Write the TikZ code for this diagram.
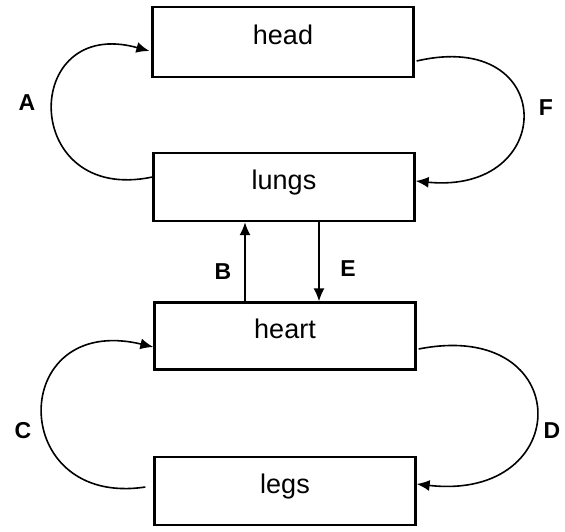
\documentclass[tikz,border=0pt]{standalone}
\usepackage{fontspec}
\setmainfont{Liberation Sans}
\usetikzlibrary{arrows.meta}
\begin{document}
\begin{tikzpicture}[x=1pt,y=-1pt,
  organ/.style={draw,line width=2.3pt,minimum width=261pt,minimum height=68pt,inner sep=0pt,
    text height=0.72em,text depth=0.24em,font=\fontsize{27}{30}\selectfont},
  flow/.style={line width=1.6pt,-{Latex[length=13pt,width=11pt]}},
  lab/.style={font=\bfseries\fontsize{23}{26}\selectfont}]
\useasboundingbox (0,0) rectangle (565,531);
\node[organ,minimum height=70pt] (head) at (283,42) {head};
\node[organ] (lungs) at (284,187) {lungs};
\node[organ,minimum height=67pt] (heart) at (285,336) {heart};
\node[organ] (legs) at (285,491) {legs};
% A
\draw[flow] ([yshift=10pt]lungs.west) .. controls (20,205) and (20,15) .. ([xshift=-2pt,yshift=-9pt]head.west);
% F
\draw[flow] ([xshift=2pt,yshift=-19pt]head.east) .. controls (558,28) and (558,195) .. ([yshift=6pt]lungs.east);
% C
\draw[flow] ([xshift=-8pt,yshift=4pt]legs.west) .. controls (7,508) and (7,312) .. ([yshift=-11pt]heart.west);
% D
\draw[flow] ([xshift=2pt,yshift=-13pt]heart.east) .. controls (576,318) and (576,502) .. ([yshift=7pt]legs.east);
% B and E
\draw[flow] (heart.north -| 245,0) -- (lungs.south -| 245,0);
\draw[flow] (lungs.south -| 319,0) -- (heart.north -| 319,0);
\node[lab] (la) at (27,103) {A};
\node[lab] (lf) at (546,108) {F};
\node[lab] (lb) at (223,272) {B};
\node[lab] (le) at (348,269) {E};
\node[lab] (lc) at (23,431) {C};
\node[lab] (ld) at (552,431) {D};
\end{tikzpicture}
\end{document}
